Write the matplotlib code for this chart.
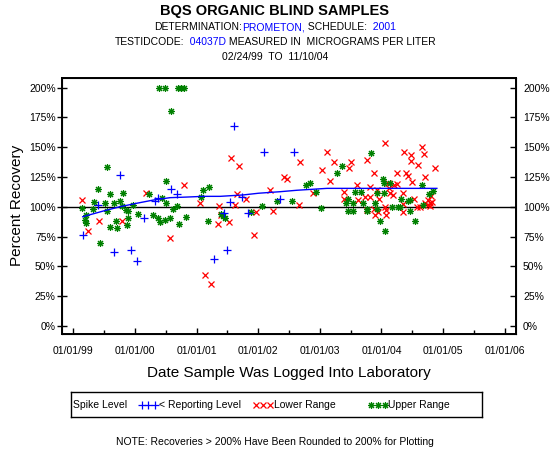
import matplotlib
matplotlib.use('Agg')
import matplotlib.pyplot as plt
from matplotlib.ticker import FixedLocator

plt.rcParams['font.family'] = ['Liberation Sans', 'DejaVu Sans']

BLUE = '#0000ff'
RED = '#ff0000'
GREEN = '#008000'

# sample dates as decimal years, recoveries in percent
rep_dates = [1999.153, 1999.763, 1999.396, 1999.661, 1999.932, 2000.034, 2000.153,
             2000.326, 2000.370, 2000.586, 2000.683, 2001.279, 2001.609, 2002.096,
             2002.583, 2001.544, 2001.744, 2001.831, 2001.446, 2001.490, 2002.356]
rep_vals = [76.6, 126.7, 101.5, 61.8, 63.5, 54.8, 90.9,
            105, 107, 115, 111, 56.5, 168, 146.3,
            146.3, 104.3, 108.5, 95, 94.6, 63.8, 106.3]

low_dates = [1999.141, 1999.239, 1999.417, 1999.795, 2000.180, 2000.570, 2000.797,
             2001.057, 2001.138, 2001.235, 2001.360, 2001.560, 2001.690, 2001.653,
             2001.625, 2001.799, 2001.398, 2001.344, 2001.528, 2001.933, 2001.961,
             2002.193, 2002.237, 2002.420, 2002.464, 2002.664, 2002.675, 2003.114,
             2003.037, 2003.232, 2003.167, 2003.471, 2003.508, 2002.886, 2003.394,
             2003.394, 2003.610, 2003.618, 2004.060, 2003.768, 2003.877, 2004.364,
             2004.482, 2004.482, 2004.596, 2004.656, 2004.693, 2004.867, 2004.709,
             2004.255, 2004.396, 2004.438, 2004.498, 2003.812, 2003.935, 2004.130,
             2004.211, 2004.250, 2003.735, 2003.817, 2003.968, 2004.141, 2004.185,
             2004.060, 2004.076, 2004.076, 2003.893, 2003.946, 2004.357, 2004.357,
             2004.357, 2004.531, 2004.584, 2004.628, 2004.709, 2004.753, 2004.791,
             2004.828, 2004.807, 2004.753, 2004.791, 2003.763, 2004.110, 2003.880]
low_vals = [106, 80, 88.4, 88.4, 112, 74, 118.6,
            103.5, 42.8, 35.2, 101, 141.3, 134.5, 110.5,
            101.5, 106.6, 93.2, 85.6, 87.5, 76.4, 96,
            114, 96.5, 125.3, 123.4, 101.5, 138, 146.3,
            131, 138, 121.7, 132.9, 138, 111.3, 112.7,
            106.6, 118.3, 105.7, 153.9, 139.3, 128.7, 146,
            143.5, 138.5, 135, 150.5, 144.4, 132.9, 125.3,
            128.7, 128.7, 125.9, 120.6, 116.9, 114.1, 115.5,
            118.3, 118.9, 108.5, 108.5, 106.6, 111.4, 110,
            100.1, 93.2, 97.4, 93.2, 96, 111.4, 102.1,
            96, 106.6, 100.1, 99.6, 103.2, 105.7, 103.5,
            104.1, 109, 101.5, 100.7, 97.4, 120, 98]

up_dates = [1999.547, 1999.401, 1999.596, 1999.802, 2000.505, 2000.229, 2001.101,
            2001.198, 2001.073, 1999.336, 1999.510, 1999.666, 1999.758, 1999.964,
            2000.445, 2000.505, 2000.688, 1999.141, 1999.320, 1999.542, 1999.795,
            1999.856, 1999.893, 2000.614, 1999.206, 1999.195, 1999.211, 2000.050,
            1999.883, 2000.294, 2000.380, 2000.407, 2000.494, 2000.570, 2000.830,
            2000.711, 2001.182, 1999.596, 1999.693, 1999.705, 1999.867, 1999.433,
            2000.396, 2000.489, 2000.705, 2000.748, 2000.797, 2000.586,
            2001.398, 2001.435, 2001.463, 2001.885, 2002.063, 2002.307, 2002.550,
            2002.778, 2002.843, 2002.935, 2003.021, 2003.357, 2003.281, 2003.545,
            2003.833, 2004.028, 2004.049, 2004.141, 2004.661, 2003.573, 2003.670,
            2003.455, 2003.545, 2003.925, 2003.898, 2003.698, 2003.773, 2003.763,
            2003.935, 2004.039, 2004.320, 2004.438, 2004.466, 2004.276, 2004.304,
            2004.466, 2004.169, 2003.979, 2004.060, 2004.547, 2004.779, 2004.844,
            2003.427, 2003.455, 2004.677]
up_vals = [133.7, 115, 110.8, 112, 121.7, 110.8, 114.4,
           116.4, 108, 104, 103, 103, 105, 101.5,
           107.4, 103.5, 100.4, 99.3, 98.2, 96.5, 100.7,
           97.6, 96.5, 98.4, 93.2, 89.2, 86.4, 94.3,
           90.4, 93.4, 90.9, 87, 89.2, 90.9, 91.7,
           85.9, 88.4, 83.3, 88.4, 82.5, 84.8, 70,
           200, 200, 200, 200, 200, 180.7,
           93.7, 92.6, 90.4, 96, 101, 105, 105,
           118.3, 120, 112.7, 99.3, 134.5, 128.7, 96.8,
           145.4, 123.1, 119.8, 120.3, 118.3, 112.2, 112.2,
           106.3, 103.5, 111.4, 103, 103, 98.2, 96.5,
           97.9, 112, 106.6, 105.2, 105.7, 100.1, 99.6,
           96.5, 99.6, 88.1, 79.7, 88.1, 110.8, 113.3,
           103, 96.5, 101.5]

# smoothed spike level curve
spike_dates = [1999.153, 1999.487, 1999.758, 2000.029, 2000.299, 2000.570, 2000.841,
               2001.110, 2001.382, 2001.760, 2002.003, 2002.356, 2002.627, 2002.870,
               2003.114, 2004.899]
spike_vals = [91.7, 96.5, 100.1, 103, 105.7, 107.7, 108.2,
              108.8, 108.8, 110, 111.4, 112.7, 113.9, 114.7,
              115.5, 115.5]

year_ticks = [1999, 2000, 2001, 2002, 2003, 2004, 2005, 2006]
year_labels = ['01/01/99', '01/01/00', '01/01/01', '01/01/02',
               '01/01/03', '01/01/04', '01/01/05', '01/01/06']
pct_ticks = [0, 25, 50, 75, 100, 125, 150, 175, 200]
pct_labels = ['%d%%' % p for p in pct_ticks]

W, H = 550, 450
fig = plt.figure(figsize=(W / 100, H / 100), dpi=100)

def px_box(x0, y0, x1, y1):
    return [x0 / W, 1 - y1 / H, (x1 - x0) / W, (y1 - y0) / H]

ax = fig.add_axes(px_box(62.3, 78, 516, 334))
ax.set_xlim(1998.821, 2006.183)
ax.set_ylim(-6.7, 208.1)

ax.axhline(100, color='black', lw=1.0, zorder=1)
ax.plot(low_dates, low_vals, ls='none', marker='x', ms=5, mew=0.9, color=RED, zorder=2)
ax.plot(up_dates, up_vals, ls='none', marker=(8, 2, 0), ms=5, mew=0.8, color=GREEN, zorder=3)
ax.plot(rep_dates, rep_vals, ls='none', marker='+', ms=6, mew=0.9, color=BLUE, zorder=4)
ax.plot(spike_dates, spike_vals, color=BLUE, lw=1.0, zorder=4)

ax.set_xticks(year_ticks)
ax.set_xticklabels(year_labels)
ax.xaxis.set_minor_locator(FixedLocator([y + 0.5 for y in year_ticks[:-1]]))
ax.tick_params(axis='x', which='major', direction='in', length=4, width=1, labelsize=7.5, pad=9)
ax.tick_params(axis='x', which='minor', direction='in', length=2.6, width=1)
ax.set_yticks(pct_ticks)
ax.set_yticklabels(pct_labels)
ax.tick_params(axis='y', direction='inout', length=6.5, width=1, labelsize=7.5, pad=1.5)
for sp in ax.spines.values():
    sp.set_linewidth(1.4)

ax2 = ax.twinx()
ax2.set_ylim(ax.get_ylim())
ax2.set_yticks(pct_ticks)
ax2.set_yticklabels(pct_labels)
ax2.tick_params(axis='y', direction='in', length=4, width=1, labelsize=7.5, pad=5)

fig.text(17 / W, 1 - 205 / H, 'Percent Recovery', rotation=90, fontsize=11,
         ha='center', va='center')
fig.text(289 / W, 1 - 373 / H, 'Date Sample Was Logged Into Laboratory', fontsize=11,
         ha='center', va='center')

# title lines, some words in blue
renderer = fig.canvas.get_renderer()

def colored_line(y_base, parts, size, weight='normal'):
    items = []
    total = 0
    for s, c in parts:
        t = fig.text(0, 1 - y_base / H, s, color=c, fontsize=size, fontweight=weight,
                     ha='left', va='baseline')
        w = t.get_window_extent(renderer).width / W
        items.append((t, w))
        total += w
    x = 0.5 - total / 2
    for t, w in items:
        t.set_x(x)
        x += w

colored_line(14.5, [('BQS ORGANIC BLIND SAMPLES', 'black')], 10.5, 'bold')
colored_line(30.2, [('DETERMINATION:', 'black'), ('PROMETON,', BLUE),
                    (' SCHEDULE:', 'black'), ('  2001', BLUE)], 7.5)
colored_line(44.9, [('TESTIDCODE:', 'black'), ('  04037D', BLUE),
                    (' MEASURED IN  MICROGRAMS PER LITER', 'black')], 7.5)
colored_line(59.6, [('02/24/99  TO  11/10/04', 'black')], 7.5)

# legend box
lax = fig.add_axes(px_box(71, 392, 482, 417))
lax.set_xlim(71, 482)
lax.set_ylim(417, 392)
lax.set_xticks([])
lax.set_yticks([])
for sp in lax.spines.values():
    sp.set_linewidth(1.0)
ly = 405
lax.text(73, ly, 'Spike Level', fontsize=7.5, va='center', ha='left')
lax.plot([141.5, 148, 154.5], [ly] * 3, ls='none', marker='+', ms=6, mew=0.9, color=BLUE)
lax.text(158.6, ly, '< Reporting Level', fontsize=7.5, va='center', ha='left')
lax.plot([256, 263, 270], [ly] * 3, ls='none', marker='x', ms=5, mew=0.9, color=RED)
lax.text(273.7, ly, 'Lower Range', fontsize=7.5, va='center', ha='left')
lax.plot([371, 378, 384.5], [ly] * 3, ls='none', marker=(8, 2, 0), ms=5, mew=0.8, color=GREEN)
lax.text(388.4, ly, 'Upper Range', fontsize=7.5, va='center', ha='left')

fig.text(0.5, 1 - 442 / H, 'NOTE: Recoveries > 200% Have Been Rounded to 200% for Plotting',
         fontsize=7.5, ha='center', va='center')

fig.savefig('out.png', dpi=100)
